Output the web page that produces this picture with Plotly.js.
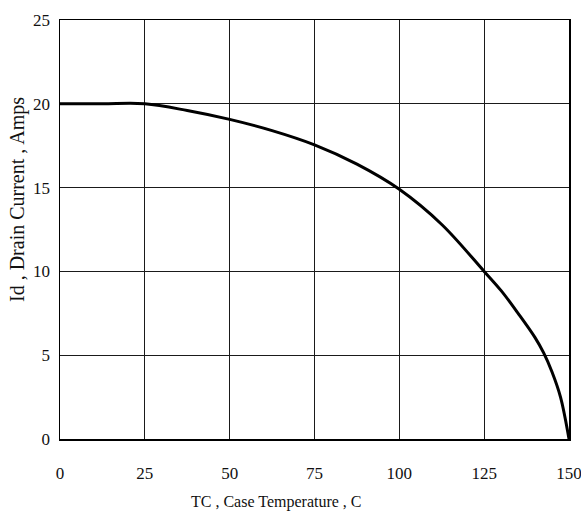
<!DOCTYPE html>
<html>
<head>
<meta charset="utf-8">
<script src="https://cdn.plot.ly/plotly-3.0.1.min.js"></script>
<style>
  html, body { margin: 0; padding: 0; background: #fff; }
  #chart { width: 581px; height: 519px; }
</style>
</head>
<body>
<div id="chart"></div>
<script>
// Derating curve: drain current vs case temperature
const caseTemp = [0, 12.5, 25, 37.5, 50, 62.5, 75, 87.5, 100, 112.5, 125, 130, 135, 140, 142.5, 145, 147.5, 150];
const drainCurrent = [20, 20, 20, 19.6, 19.07, 18.4, 17.55, 16.4, 14.9, 12.8, 10, 8.85, 7.5, 6.05, 5.15, 4.0, 2.5, 0];

const xTicks = [0, 25, 50, 75, 100, 125, 150];
const yTicks = [0, 5, 10, 15, 20, 25];

const xTitle = 'TC , Case Temperature , C';
const yTitle = 'Id , Drain Current , Amps';

const serif = 'Liberation Serif, Times New Roman, serif';

const trace = {
  x: caseTemp,
  y: drainCurrent,
  mode: 'lines',
  line: { color: '#000', width: 3, shape: 'spline', smoothing: 1 },
  hoverinfo: 'skip'
};

const axisCommon = {
  showline: true,
  mirror: true,
  linecolor: '#000',
  linewidth: 1.5,
  showgrid: true,
  gridcolor: '#1a1a1a',
  gridwidth: 1.3,
  zeroline: false,
  ticks: 'outside',
  tickcolor: 'rgba(0,0,0,0)',
  ticklabeloverflow: 'allow',
  tickfont: { family: serif, size: 17, color: '#111' },
  fixedrange: true
};

const layout = {
  width: 581,
  height: 519,
  margin: { l: 60, r: 12, t: 20, b: 80 },
  paper_bgcolor: '#fff',
  plot_bgcolor: '#fff',
  showlegend: false,
  xaxis: Object.assign({}, axisCommon, {
    range: [0, 150],
    tickmode: 'array',
    tickvals: xTicks,
    ticktext: xTicks.map(String),
    ticklen: 18
  }),
  yaxis: Object.assign({}, axisCommon, {
    range: [0, 25],
    tickmode: 'array',
    tickvals: yTicks,
    ticktext: yTicks.map(String),
    ticklen: 5
  }),
  annotations: [
    {
      text: xTitle,
      xref: 'paper', yref: 'paper',
      x: (276 - 60) / 509, y: -(502 - 439) / 419,
      xanchor: 'center', yanchor: 'middle',
      showarrow: false,
      font: { family: serif, size: 16, color: '#111' }
    },
    {
      text: yTitle,
      xref: 'paper', yref: 'paper',
      x: -(60 - 17) / 509, y: (439 - 200) / 419,
      xanchor: 'center', yanchor: 'middle',
      textangle: -90,
      showarrow: false,
      font: { family: serif, size: 20, color: '#111' }
    }
  ]
};

Plotly.newPlot('chart', [trace], layout, { staticPlot: true, displayModeBar: false });
</script>
</body>
</html>
